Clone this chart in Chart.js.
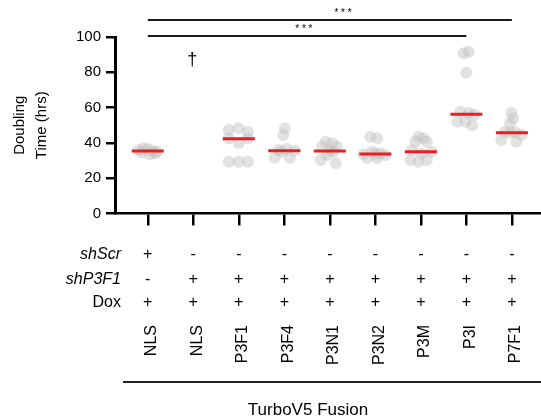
<!DOCTYPE html>
<html>
<head>
<meta charset="utf-8">
<script src="https://cdn.jsdelivr.net/npm/chart.js@4.4.1/dist/chart.umd.min.js"></script>
<style>
  html, body { margin: 0; padding: 0; background: #fff; }
  canvas { display: block; }
</style>
</head>
<body>
<canvas id="chart" width="541" height="418"></canvas>
<script>
// Construct names (TurboV5 fusions)
const categories = ['NLS', 'NLS', 'P3F1', 'P3F4', 'P3N1', 'P3N2', 'P3M', 'P3I', 'P7F1'];

// Condition table under the axis
const shScr  = ['+', '-', '-', '-', '-', '-', '-', '-', '-'];
const shP3F1 = ['-', '+', '+', '+', '+', '+', '+', '+', '+'];
const dox    = ['+', '+', '+', '+', '+', '+', '+', '+', '+'];

// Doubling time (hrs) of each replicate, per construct
const doublingTimes = [
  [36, 37, 36.5, 35.5, 35, 34.5, 33.5, 34],
  [],
  [47.3, 48.3, 46.3, 42.5, 40, 42.5, 29.3, 29.3, 29.3],
  [48.3, 44.5, 36, 36.5, 35.5, 31.6, 31.6, 35],
  [40.7, 39.8, 37.8, 37.8, 35.5, 33.1, 30.3, 28.4, 35],
  [43.5, 42.6, 35, 34, 33.5, 33, 31.5, 31.5, 33.8],
  [43.5, 42.6, 40.7, 40.7, 36, 35, 30.3, 29.3, 30.3, 34],
  [91.7, 90.8, 79.8, 57.7, 57, 56, 52, 52, 50],
  [57.1, 53.9, 51.1, 46.3, 46, 44.5, 41.6, 40.7, 45.8]
];

// Horizontal scatter of each replicate within its column (category units)
const spread = [
  [-0.2, -0.09, 0, 0.11, 0.2, -0.13, 0.04, 0.15],
  [],
  [-0.22, 0, 0.2, -0.22, 0, 0.2, -0.22, 0, 0.2],
  [0.01, -0.02, -0.13, 0.05, 0.23, -0.21, 0.12, -0.06],
  [-0.09, 0.05, -0.17, 0.16, 0, -0.06, -0.2, 0.13, 0.08],
  [-0.11, 0.04, -0.07, 0.11, -0.26, 0.22, -0.18, 0.04, 0],
  [-0.05, 0.06, -0.12, 0.13, -0.2, 0.24, -0.23, -0.05, 0.13, 0.01],
  [0.05, -0.06, 0, -0.13, 0.05, 0.18, -0.2, -0.02, 0.13],
  [-0.01, 0.03, -0.04, -0.15, 0.07, 0.21, -0.23, 0.1, -0.04]
];

// Median doubling time per construct
const medians = [35.4, null, 42.4, 35.6, 35.4, 33.7, 35, 56.2, 45.8];

// Significance comparisons (column indices)
const comparisons = [
  { from: 0, to: 8, label: '* * *' },
  { from: 0, to: 7, label: '* * *' }
];

// Marker for the construct with no measurable doubling
const noGrowth = { index: 1, symbol: '\u2020' };

const axisLabel = 'TurboV5 Fusion';
const FONT = "'Liberation Sans', Arial, sans-serif";

const replicatePoints = [];
doublingTimes.forEach((vals, i) => {
  vals.forEach((v, k) => replicatePoints.push({ x: i + spread[i][k], y: v }));
});
const medianPoints = [];
medians.forEach((m, i) => { if (m !== null) medianPoints.push({ x: i, y: m }); });

const annotations = {
  id: 'annotations',
  afterDraw(chart) {
    const { ctx, scales: { x, y }, chartArea } = chart;
    ctx.save();
    ctx.fillStyle = '#000';

    // significance bars above the plot
    const levels = [[109.6, 113.6, 4.29], [100.6, 104.5, 3.43]];
    comparisons.forEach((c, n) => {
      const [lineV, textV, textAt] = levels[n];
      const yy = y.getPixelForValue(lineV);
      ctx.strokeStyle = '#1a1a1a';
      ctx.lineWidth = 2;
      ctx.beginPath();
      ctx.moveTo(x.getPixelForValue(c.from), yy);
      ctx.lineTo(x.getPixelForValue(c.to), yy);
      ctx.stroke();
      ctx.font = '10px ' + FONT;
      ctx.textAlign = 'center';
      ctx.textBaseline = 'middle';
      ctx.fillText(c.label, x.getPixelForValue(textAt), y.getPixelForValue(textV));
    });

    // dagger for the knock-down without rescue
    ctx.font = '18px ' + FONT;
    ctx.textAlign = 'center';
    ctx.textBaseline = 'middle';
    ctx.fillText(noGrowth.symbol, x.getPixelForValue(noGrowth.index) - 1, y.getPixelForValue(87));

    // condition table
    const base = chartArea.bottom;
    const rows = [
      { name: 'shScr', italic: true, marks: shScr, dy: 41.5 },
      { name: 'shP3F1', italic: true, marks: shP3F1, dy: 66.5 },
      { name: 'Dox', italic: false, marks: dox, dy: 89.5 }
    ];
    rows.forEach(r => {
      const yy = base + r.dy;
      ctx.font = (r.italic ? 'italic ' : '') + '16px ' + FONT;
      ctx.textAlign = 'right';
      ctx.fillText(r.name, chartArea.left + 6, yy);
      ctx.font = '16px ' + FONT;
      ctx.textAlign = 'center';
      r.marks.forEach((m, i) => ctx.fillText(m, x.getPixelForValue(i), yy));
    });

    // rotated construct names
    ctx.font = '16px ' + FONT;
    categories.forEach((c, i) => {
      ctx.save();
      ctx.translate(x.getPixelForValue(i) + 4, base + 111.5);
      ctx.rotate(-Math.PI / 2);
      ctx.textAlign = 'right';
      ctx.textBaseline = 'middle';
      ctx.fillText(c, 0, 0);
      ctx.restore();
    });

    // grouping line and its caption
    ctx.strokeStyle = '#222';
    ctx.lineWidth = 2;
    ctx.beginPath();
    ctx.moveTo(chartArea.left + 8, base + 168.5);
    ctx.lineTo(chart.width, base + 168.5);
    ctx.stroke();
    ctx.font = '17px ' + FONT;
    ctx.textAlign = 'center';
    ctx.textBaseline = 'middle';
    ctx.fillText(axisLabel, 308, base + 196.5);

    ctx.restore();
  }
};

new Chart(document.getElementById('chart'), {
  type: 'scatter',
  data: {
    datasets: [
      {
        data: medianPoints,
        pointStyle: 'line',
        pointRadius: 16,
        borderColor: '#ec1c24',
        borderWidth: 3,
        backgroundColor: '#ec1c24',
        order: 0
      },
      {
        data: replicatePoints,
        pointStyle: 'circle',
        pointRadius: 6,
        borderWidth: 0,
        backgroundColor: 'rgba(190,190,190,0.45)',
        order: 1
      }
    ]
  },
  options: {
    responsive: false,
    animation: false,
    devicePixelRatio: 1,
    layout: { autoPadding: false, padding: { top: 37, right: 0, bottom: 0, left: 0 } },
    plugins: { legend: { display: false }, tooltip: { enabled: false } },
    scales: {
      x: {
        type: 'linear',
        min: -0.72,
        max: 8.64,
        afterBuildTicks(scale) { scale.ticks = categories.map((_, i) => ({ value: i })); },
        afterFit(scale) { scale.height = 204.5; },
        ticks: { display: false },
        grid: { drawOnChartArea: false, color: '#000', lineWidth: 2.5, tickLength: 12 },
        border: { color: '#000', width: 2.5 }
      },
      y: {
        min: 0,
        max: 100,
        afterFit(scale) { scale.width = 115; },
        ticks: { stepSize: 20, color: '#000', font: { family: FONT, size: 15 }, padding: 5 },
        grid: { drawOnChartArea: false, color: '#000', lineWidth: 2.5, tickLength: 9 },
        border: { color: '#000', width: 3 },
        title: {
          display: true,
          text: ['Doubling', 'Time (hrs)'],
          color: '#000',
          font: { family: FONT, size: 15, lineHeight: 1.45 },
          padding: { top: 9, bottom: 0 }
        }
      }
    }
  },
  plugins: [annotations]
});
</script>
</body>
</html>
